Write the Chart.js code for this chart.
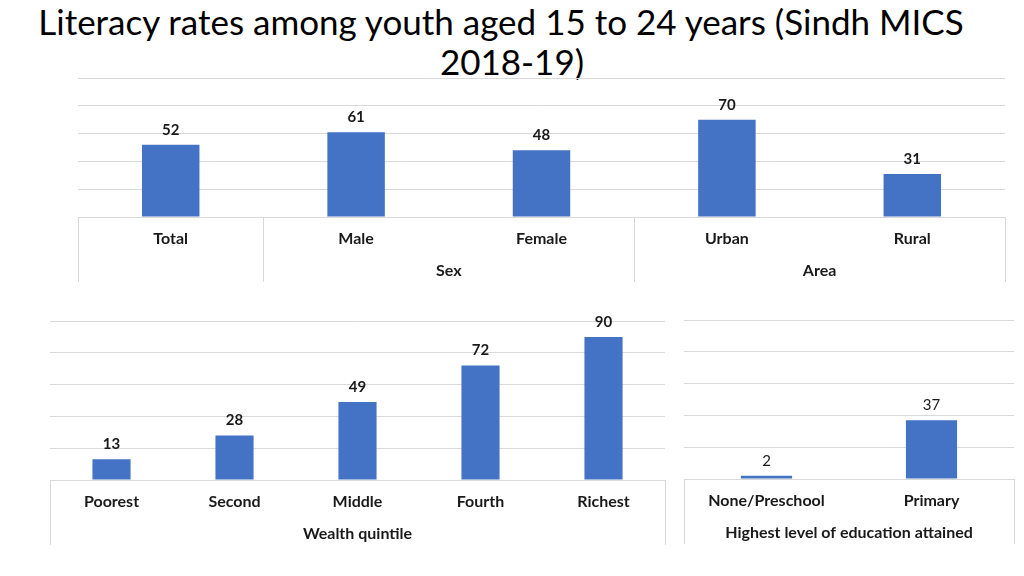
<!DOCTYPE html>
<html>
<head>
<meta charset="utf-8">
<script src="https://cdn.jsdelivr.net/npm/chart.js@4.4.1/dist/chart.umd.min.js"></script>
<style>
  body { margin: 0; background: #fff; width: 1024px; height: 576px; overflow: hidden; position: relative; }
  #title { position: absolute; left: 0; top: 1px; width: 1024px; text-align: center;
           font-family: Lato, "Noto Sans", sans-serif; font-size: 35px; line-height: 40px; color: #000; }
  #title span { margin-right: 22px; }
  canvas { position: absolute; }
</style>
</head>
<body>
<div id="title"><span>Literacy rates among youth aged 15 to 24 years (Sindh MICS</span><br>2018-19)</div>
<canvas id="top" style="left:0;top:70px"></canvas>
<canvas id="wealth" style="left:1px;top:300px"></canvas>
<canvas id="edu" style="left:680px;top:300px"></canvas>
<script>
// top panel
let topLabels = ['Total', 'Male', 'Female', 'Urban', 'Rural'];
let topValues = [52, 61, 48, 70, 31];
let topGroups = ['', 'Sex', 'Area'];
let topSpans = [1, 2, 2];

// wealth panel
let wealthLabels = ['Poorest', 'Second', 'Middle', 'Fourth', 'Richest'];
let wealthValues = [13, 28, 49, 72, 90];
let wealthGroups = ['Wealth quintile'];
let wealthSpans = [5];

// education panel
let eduLabels = ['None/Preschool', 'Primary'];
let eduValues = [2, 37];
let eduGroups = ['Highest level of education attained'];
let eduSpans = [2];

const FONT = 'Lato, "Noto Sans", sans-serif';
const GRID = '#d9d9d9';

// value labels above the bars
const valueLabels = {
  id: 'valueLabels',
  afterDatasetsDraw(chart, args, opts) {
    const ctx = chart.ctx;
    const meta = chart.getDatasetMeta(0);
    const data = chart.data.datasets[0].data;
    ctx.save();
    ctx.font = (opts.bold ? 'bold ' : '') + '15px ' + FONT;
    ctx.fillStyle = '#1a1a1a';
    ctx.textAlign = 'center';
    ctx.textBaseline = 'middle';
    meta.data.forEach((bar, i) => {
      ctx.fillText(data[i], bar.x, bar.y - 15);
    });
    ctx.restore();
  }
};

// second level of the category axis: separators and group names
const groupAxis = {
  id: 'groupAxis',
  afterDraw(chart, args, opts) {
    const ctx = chart.ctx;
    const x = chart.scales.x;
    const area = chart.chartArea;
    const half = (x.getPixelForValue(1) - x.getPixelForValue(0)) / 2;
    const y0 = area.bottom, y1 = area.bottom + 65;
    ctx.save();
    ctx.strokeStyle = GRID;
    ctx.lineWidth = 1;
    ctx.font = 'bold 16px ' + FONT;
    ctx.fillStyle = '#1a1a1a';
    ctx.textAlign = 'center';
    ctx.textBaseline = 'middle';
    let start = 0;
    const edges = [x.getPixelForValue(0) - half];
    opts.spans.forEach((span, g) => {
      const end = start + span - 1;
      const left = x.getPixelForValue(start) - half;
      const right = x.getPixelForValue(end) + half;
      edges.push(right);
      if (opts.groups[g]) ctx.fillText(opts.groups[g], (left + right) / 2, area.bottom + 54);
      start += span;
    });
    edges.forEach(e => {
      const px = Math.round(e) + 0.5;
      ctx.beginPath();
      ctx.moveTo(px, y0);
      ctx.lineTo(px, y1);
      ctx.stroke();
    });
    ctx.restore();
  }
};

function makeChart(id, w, h, labels, values, groups, spans, pad, xHeight, boldValues) {
  const el = document.getElementById(id);
  el.width = w;
  el.height = h;
  el.style.width = w + 'px';
  el.style.height = h + 'px';
  return new Chart(el, {
    type: 'bar',
    data: {
      labels: labels,
      datasets: [{
        data: values,
        backgroundColor: '#4472c4',
        barPercentage: 0.31,
        categoryPercentage: 1
      }]
    },
    options: {
      responsive: false,
      animation: false,
      layout: { padding: pad },
      plugins: {
        legend: { display: false },
        tooltip: { enabled: false },
        valueLabels: { bold: boldValues },
        groupAxis: { groups: groups, spans: spans }
      },
      scales: {
        x: {
          grid: { display: false, drawTicks: false },
          border: { display: false },
          ticks: { color: '#1a1a1a', font: { family: FONT, size: 16, weight: 'bold' }, padding: 12, maxRotation: 0 },
          afterFit(scale) { scale.height = xHeight; }
        },
        y: {
          min: 0,
          max: 100,
          ticks: { display: false, stepSize: 20 },
          grid: { color: GRID, drawTicks: false },
          border: { display: false },
          afterFit(scale) { scale.width = 0; }
        }
      }
    },
    plugins: [valueLabels, groupAxis]
  });
}

makeChart('top', 1024, 220, topLabels, topValues, topGroups, topSpans,
  { left: 78, right: 19, top: 8, bottom: 0 }, 73, true);
makeChart('wealth', 680, 250, wealthLabels, wealthValues, wealthGroups, wealthSpans,
  { left: 49, right: 16, top: 21, bottom: 0 }, 70, true);
makeChart('edu', 344, 250, eduLabels, eduValues, eduGroups, eduSpans,
  { left: 4, right: 10, top: 20, bottom: 0 }, 71, false);
</script>
</body>
</html>
